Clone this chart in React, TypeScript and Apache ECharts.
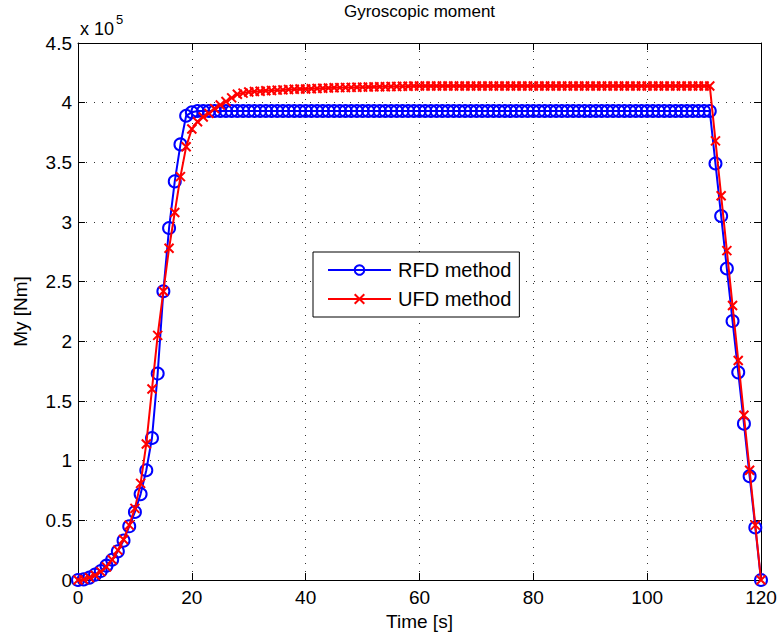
import React, { useEffect, useRef } from "react";
import * as echarts from "echarts";

const timeS: number[] = [];
for (let i = 0; i <= 120; i++) timeS.push(i);

// Values in units of 1e5 Nm, one per second, t = 0..120
const rfdMethod: number[] = [
  0, 0.005, 0.02, 0.045, 0.075, 0.12, 0.17, 0.24, 0.33, 0.45,
  0.57, 0.72, 0.92, 1.19, 1.73, 2.42, 2.95, 3.34, 3.65, 3.89,
  3.92, 3.93, 3.93, 3.93, 3.93, 3.93, 3.93, 3.93, 3.93, 3.93,
  3.93, 3.93, 3.93, 3.93, 3.93, 3.93, 3.93, 3.93, 3.93, 3.93,
  3.93, 3.93, 3.93, 3.93, 3.93, 3.93, 3.93, 3.93, 3.93, 3.93,
  3.93, 3.93, 3.93, 3.93, 3.93, 3.93, 3.93, 3.93, 3.93, 3.93,
  3.93, 3.93, 3.93, 3.93, 3.93, 3.93, 3.93, 3.93, 3.93, 3.93,
  3.93, 3.93, 3.93, 3.93, 3.93, 3.93, 3.93, 3.93, 3.93, 3.93,
  3.93, 3.93, 3.93, 3.93, 3.93, 3.93, 3.93, 3.93, 3.93, 3.93,
  3.93, 3.93, 3.93, 3.93, 3.93, 3.93, 3.93, 3.93, 3.93, 3.93,
  3.93, 3.93, 3.93, 3.93, 3.93, 3.93, 3.93, 3.93, 3.93, 3.93,
  3.93, 3.93, 3.49, 3.05, 2.61, 2.17, 1.74, 1.31, 0.87, 0.44,
  0,
];

const ufdMethod: number[] = [
  0, 0.005, 0.02, 0.04, 0.07, 0.11, 0.17, 0.25, 0.34, 0.46,
  0.6, 0.81, 1.14, 1.6, 2.05, 2.42, 2.78, 3.08, 3.38, 3.63,
  3.78, 3.84, 3.88, 3.91, 3.95, 3.98, 4.01, 4.04, 4.07, 4.08,
  4.09, 4.093, 4.096, 4.1, 4.102, 4.105, 4.107, 4.11, 4.112, 4.114,
  4.115, 4.117, 4.119, 4.121, 4.123, 4.125, 4.126, 4.127, 4.128, 4.129,
  4.13, 4.131, 4.132, 4.133, 4.134, 4.135, 4.136, 4.137, 4.138, 4.139,
  4.14, 4.14, 4.14, 4.14, 4.14, 4.14, 4.14, 4.14, 4.14, 4.14,
  4.14, 4.14, 4.14, 4.14, 4.14, 4.14, 4.14, 4.14, 4.14, 4.14,
  4.14, 4.14, 4.14, 4.14, 4.14, 4.14, 4.14, 4.14, 4.14, 4.14,
  4.14, 4.14, 4.14, 4.14, 4.14, 4.14, 4.14, 4.14, 4.14, 4.14,
  4.14, 4.14, 4.14, 4.14, 4.14, 4.14, 4.14, 4.14, 4.14, 4.14,
  4.14, 4.14, 3.68, 3.22, 2.76, 2.3, 1.84, 1.38, 0.92, 0.46,
  0,
];

const seriesNames = ["RFD method", "UFD method"];
const titleText = "Gyroscopic moment";
const xName = "Time [s]";
const yName = "My [Nm]";

const FONT = "'Liberation Sans', Arial, Helvetica, sans-serif";

export default function App() {
  const ref = useRef<HTMLDivElement>(null);
  useEffect(() => {
    if (!ref.current) return;
    const chart = echarts.init(ref.current, undefined, { renderer: "svg" });
    const L = 78, R = 761, T = 43, B = 580;
    const axisCommon = {
      axisLine: { show: true, onZero: false, lineStyle: { color: "#000", width: 1 } },
      axisTick: { show: true, inside: true, length: 7, lineStyle: { color: "#000", width: 1 } },
    };
    const crossPath = "path://M0,0L10,10M0,10L10,0";
    chart.setOption({
      animation: false,
      backgroundColor: "#fff",
      grid: { left: L, right: 781 - R, top: T, bottom: 639 - B, containLabel: false },
      legend: {
        data: seriesNames,
        orient: "vertical",
        left: 313,
        top: 252,
        itemWidth: 63,
        itemHeight: 12,
        itemGap: 9,
        padding: [8, 8, 8, 14],
        borderColor: "#000",
        borderWidth: 1,
        backgroundColor: "#fff",
        textStyle: { fontFamily: FONT, fontSize: 20, color: "#000", padding: [0, 0, 0, 2] },
      },
      xAxis: [
        {
          type: "value",
          min: 0,
          max: 120,
          interval: 20,
          ...axisCommon,
          axisLabel: { fontFamily: FONT, fontSize: 19, color: "#000", margin: 8 },
          splitLine: { show: true, lineStyle: { color: "#333", width: 1, type: [1, 7] } },
        },
        {
          type: "value",
          position: "top",
          min: 0,
          max: 120,
          interval: 20,
          ...axisCommon,
          axisLabel: { show: false },
          splitLine: { show: false },
        },
      ],
      yAxis: [
        {
          type: "value",
          min: 0,
          max: 4.5,
          interval: 0.5,
          ...axisCommon,
          axisLabel: { fontFamily: FONT, fontSize: 19, color: "#000", margin: 6 },
          splitLine: { show: true, lineStyle: { color: "#333", width: 1, type: [1, 7] } },
        },
        {
          type: "value",
          position: "right",
          min: 0,
          max: 4.5,
          interval: 0.5,
          ...axisCommon,
          axisLabel: { show: false },
          splitLine: { show: false },
        },
      ],
      series: [
        {
          name: seriesNames[0],
          type: "line",
          data: timeS.map((t, i) => [t, rfdMethod[i]]),
          symbol: "circle",
          symbolSize: 12,
          showAllSymbol: true,
          lineStyle: { color: "#0000ff", width: 2 },
          itemStyle: { color: "rgba(0,0,0,0)", borderColor: "#0000ff", borderWidth: 2 },
          z: 2,
        },
        {
          name: seriesNames[1],
          type: "line",
          data: timeS.map((t, i) => [t, ufdMethod[i]]),
          symbol: crossPath,
          symbolSize: 9,
          showAllSymbol: true,
          lineStyle: { color: "#ff0000", width: 2 },
          itemStyle: { color: "#ff0000", borderColor: "#ff0000", borderWidth: 2 },
          z: 3,
        },
      ],
      graphic: [
        {
          type: "text",
          x: (L + R) / 2,
          y: 11,
          style: { text: titleText, fontFamily: FONT, fontSize: 17, fill: "#000", align: "center", verticalAlign: "middle" },
        },
        {
          type: "text",
          x: (L + R) / 2,
          y: 621,
          style: { text: xName, fontFamily: FONT, fontSize: 19, fill: "#000", align: "center", verticalAlign: "middle" },
        },
        {
          type: "text",
          x: 20,
          y: (T + B) / 2,
          rotation: Math.PI / 2,
          style: { text: yName, fontFamily: FONT, fontSize: 19, fill: "#000", align: "center", verticalAlign: "middle" },
        },
        {
          type: "text",
          x: 80,
          y: 29,
          style: { text: "x 10", fontFamily: FONT, fontSize: 18, fill: "#000", align: "left", verticalAlign: "middle" },
        },
        {
          type: "text",
          x: 116,
          y: 19,
          style: { text: "5", fontFamily: FONT, fontSize: 13, fill: "#000", align: "left", verticalAlign: "middle" },
        },
      ],
    });
    return () => chart.dispose();
  }, []);
  return <div ref={ref} style={{ position: "fixed", left: 0, top: 0, width: 781, height: 639 }} />;
}
